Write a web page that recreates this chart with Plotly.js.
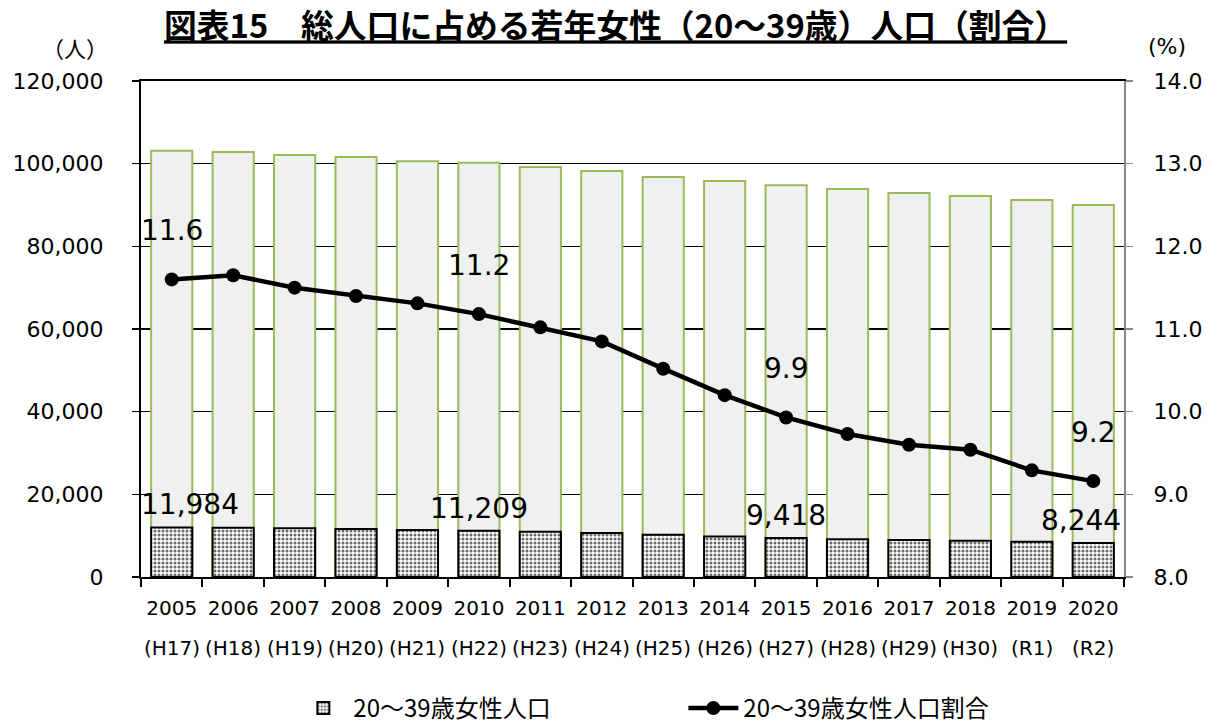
<!DOCTYPE html>
<html><head><meta charset="utf-8">
<script src="https://cdn.plot.ly/plotly-3.0.1.min.js"></script>
<style>body{margin:0;background:#fff}#chart{width:1207px;height:727px}</style>
</head><body><div id="chart"></div>
<script>
const years = ['2005','2006','2007','2008','2009','2010','2011','2012','2013','2014','2015','2016','2017','2018','2019','2020'];
const eras = ['(H17)','(H18)','(H19)','(H20)','(H21)','(H22)','(H23)','(H24)','(H25)','(H26)','(H27)','(H28)','(H29)','(H30)','(R1)','(R2)'];
const totalPop = [103100,102800,102100,101600,100600,100200,99200,98200,96800,95800,94800,93900,92900,92200,91200,90000];
const youngFemale = [11984,11900,11800,11600,11400,11209,10950,10650,10200,9800,9418,9150,8950,8800,8500,8244];
const ratio = [11.6,11.65,11.5,11.4,11.31,11.18,11.02,10.85,10.52,10.2,9.93,9.73,9.6,9.54,9.29,9.16];
const labeledIdx = [0,5,10,15];
const femaleName = '20～39歳女性人口';
const ratioName = '20～39歳女性人口割合';
const titleText = '<b><u>図表15　総人口に占める若年女性（20～39歳）人口（割合）</u></b>';

const FONT = 'DejaVu Sans, Verdana, "Noto Sans CJK JP", sans-serif';
const JFONT = '"Noto Sans CJK JP", "DejaVu Sans", sans-serif';

const traces = [
  {type:'bar', x:years, y:totalPop, showlegend:false, hoverinfo:'skip',
   marker:{color:'#f0f0f0', line:{color:'#9bbb59', width:2}}},
  {type:'bar', x:years, y:youngFemale, name:femaleName,
   marker:{color:'#ffffff', line:{color:'#000', width:2},
     pattern:{shape:'.', fgcolor:'#6a6a6a', bgcolor:'#ffffff', size:4, solidity:0.45}}},
  {type:'scatter', mode:'lines+markers', x:years, y:ratio, yaxis:'y2', name:ratioName,
   line:{color:'#000', width:4.5}, marker:{color:'#000', size:14}}
];

const barShift = {0:18, 15:-12};
const ann = [];
labeledIdx.forEach(i => {
  ann.push({x:i, y:youngFemale[i], xref:'x', yref:'y', text:youngFemale[i].toLocaleString('en-US'),
    showarrow:false, yanchor:'bottom', yshift:4, xshift:(barShift[i]||0), font:{family:FONT, size:28, color:'#000'}});
  ann.push({x:i, y:ratio[i], xref:'x', yref:'y2', text:ratio[i].toFixed(1),
    showarrow:false, yanchor:'bottom', yshift:30, font:{family:FONT, size:28, color:'#000'}});
});
eras.forEach((era,i) => {
  ann.push({x:i, y:0, xref:'x', yref:'paper', text:era, showarrow:false, yanchor:'middle', yshift:-71,
    font:{family:FONT, size:20, color:'#000'}});
});
ann.push({x:75, y:47, xref:'pixel', yref:'pixel', text:'（人）', showarrow:false, xanchor:'center', yanchor:'middle', font:{family:JFONT, size:22, color:'#000'}});
ann.push({x:1167, y:47, xref:'pixel', yref:'pixel', text:'(%)', showarrow:false, xanchor:'center', yanchor:'middle', font:{family:FONT, size:22, color:'#000'}});
ann.forEach(a => {
  if (a.xref==='pixel') { a.xref='paper'; a.x=(a.x-141)/983; }
  if (a.yref==='pixel') { a.yref='paper'; a.y=(577-a.y)/496; }
});

const layout = {
  width:1207, height:727,
  margin:{l:141, r:83, t:81, b:150, autoexpand:false},
  paper_bgcolor:'#fff', plot_bgcolor:'#fff',
  barmode:'overlay', bargap:0.33,
  title:{text:titleText, x:0.51, xanchor:'center', y:0.963, yanchor:'middle', font:{family:JFONT, size:32.8, color:'#000'}},
  font:{family:FONT, color:'#000'},
  xaxis:{type:'category', range:[-0.5,15.5], autorange:false, tickson:'boundaries', ticks:'outside', ticklen:8, tickcolor:'#000', tickwidth:2,
    showline:true, mirror:true, linecolor:'#000', linewidth:2, showgrid:false, tickfont:{family:FONT, size:20}, tickangle:0,
    ticklabelstandoff:12, automargin:false},
  yaxis:{range:[0,120000], autorange:false, dtick:20000, tickformat:',d', showgrid:true, gridcolor:'#000', gridwidth:1.5,
    showline:true, linecolor:'#000', linewidth:2, ticks:'outside', ticklen:7, tickcolor:'#000', tickwidth:1.5,
    tickfont:{family:FONT, size:22}, zeroline:false, ticklabelstandoff:24, automargin:false},
  yaxis2:{range:[8,14], autorange:false, dtick:1, tickformat:'.1f', overlaying:'y', side:'right', showgrid:false,
    showline:true, linecolor:'#888', linewidth:2, ticks:'outside', ticklen:7, tickcolor:'#888', tickwidth:1.5,
    tickfont:{family:FONT, size:22}, zeroline:false, ticklabelstandoff:16, automargin:false},
  legend:{orientation:'h', x:0.155, xanchor:'left', y:-0.265, yanchor:'middle', font:{family:JFONT, size:24},
    itemwidth:50, entrywidth:325, entrywidthmode:'pixels', bgcolor:'rgba(0,0,0,0)'},
  annotations:ann
};
Plotly.newPlot('chart', traces, layout, {displayModeBar:false, staticPlot:true});
</script></body></html>
